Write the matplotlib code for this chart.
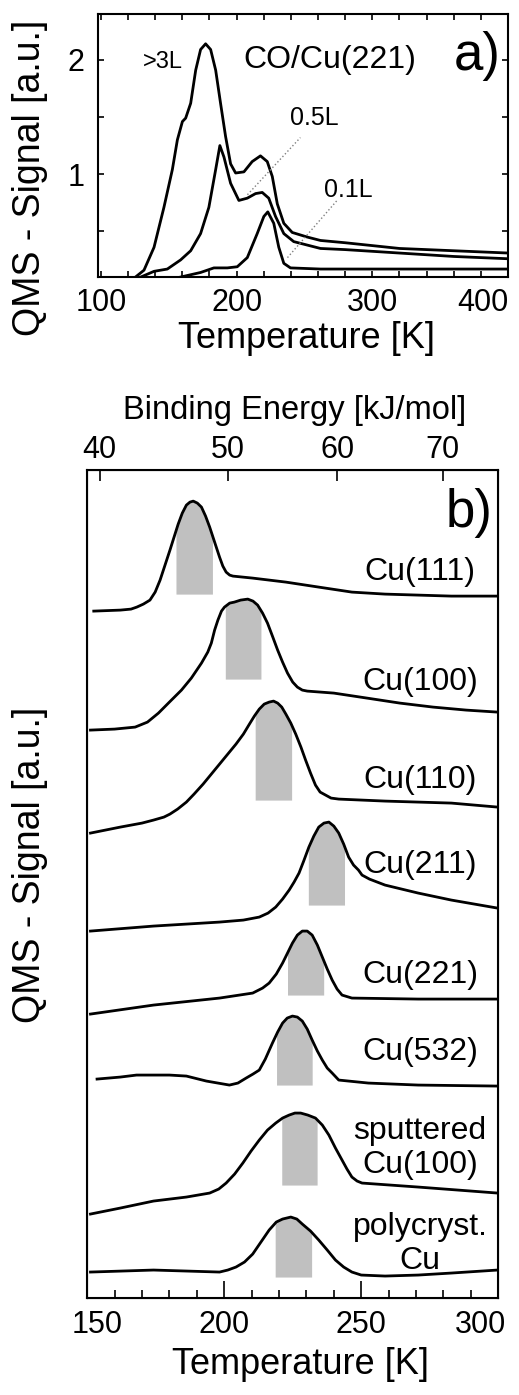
import matplotlib.pyplot as plt
import numpy as np
from matplotlib.ticker import MultipleLocator

plt.rcParams['font.family'] = ['Liberation Sans', 'DejaVu Sans']

# ---------------------------------------------------------------------
# Dados painel a) CO/Cu(221), diferentes exposições
# ---------------------------------------------------------------------
t_3L = [124.5, 131.8, 139.2, 146.5, 152.7, 156.4, 160.1, 162.5, 166.2, 169.9, 173.5, 177.2,
        180.9, 184.6, 188.2, 191.9, 195.6, 199.3, 205.4, 211.5, 217.6, 222.6, 226.3, 230,
        234.8, 241, 252, 261.8, 280, 320, 360, 400]
s_3L = [0.09, 0.16, 0.36, 0.71, 1.04, 1.30, 1.46, 1.49, 1.62, 1.91, 2.09, 2.14,
        2.09, 1.91, 1.62, 1.33, 1.09, 1.01, 1.02, 1.11, 1.16, 1.11, 0.98, 0.74,
        0.57, 0.49, 0.45, 0.42, 0.40, 0.35, 0.33, 0.31]

t_05L = [129.4, 139.2, 149, 158.8, 166.2, 173.5, 179.6, 184.6, 187.7, 190.7, 195.6, 201.7,
         207.9, 214, 218.9, 223.7, 228.7, 234.8, 242.1, 261.8, 280, 320, 360, 400]
s_05L = [0.10, 0.15, 0.17, 0.25, 0.33, 0.48, 0.71, 1.04, 1.25, 1.15, 0.92, 0.77,
         0.79, 0.83, 0.84, 0.79, 0.63, 0.48, 0.41, 0.35, 0.34, 0.31, 0.28, 0.26]

t_01L = [158.8, 173.5, 183.3, 193.2, 200.5, 207.9, 215.2, 220.1, 223, 227.4, 231.1, 234.8,
         239.7, 261.8, 300, 400]
s_01L = [0.10, 0.14, 0.18, 0.18, 0.19, 0.27, 0.48, 0.63, 0.67, 0.57, 0.36, 0.22,
         0.18, 0.17, 0.17, 0.17]

# ---------------------------------------------------------------------
# Dados painel b) espectros TPD das superfícies
# ---------------------------------------------------------------------
nomes = ['Cu(111)', 'Cu(100)', 'Cu(110)', 'Cu(211)', 'Cu(221)', 'Cu(532)',
         'sputtered\nCu(100)', 'polycryst.\nCu']
deslocamentos = [6.87, 5.68, 4.65, 3.67, 2.84, 2.19, 0.84, 0.26]

temps = [
    [152.4, 162.1, 166, 168.1, 170.5, 172.9, 174.8, 176.6, 178.4, 180.2, 181.7, 183.2, 184.7,
     186.2, 187.5, 188.7, 190.2, 191.7, 193.2, 194.7, 196.5, 198.3, 199.5, 200.7, 202, 203.2,
     210.4, 222.5, 234.5, 246.6, 258.7, 270.8, 282.9, 299.6],
    [151.2, 160, 167.5, 172, 176, 180, 184.4, 188, 191.7, 194, 195.3, 196.5, 197.7, 199, 200.1,
     202, 203.7, 206, 208.6, 210.5, 212.2, 214, 215.8, 217.6, 219.5, 221.3, 223.1, 225, 226.7,
     228.5, 230.3, 240, 252.1, 264.1, 276.2, 288.3, 299.7],
    [151.2, 162.1, 170, 174.2, 178, 180.2, 183, 186.2, 189, 192.3, 198.3, 204.3, 207, 209.2,
     211, 212.8, 214.6, 216.4, 218, 219.5, 221, 222.5, 224.3, 226.1, 228, 229.7, 231.5, 233.3,
     235, 237, 239, 241.8, 258.7, 282.9, 299.7],
    [151.2, 174.2, 198.3, 207, 212.8, 216, 218.8, 221.3, 223.7, 225.5, 227.3, 229, 230.9, 232.7,
     234.5, 236.4, 238.2, 240, 241.8, 243.6, 245.4, 247.2, 249, 250.3, 253, 258.7, 270.8, 282.9,
     299.7],
    [151.2, 174.2, 198.3, 210.4, 214, 216.4, 219, 221.3, 223.1, 224.9, 226.7, 228.5, 230.3,
     232.1, 234, 235.8, 237.6, 239.4, 241.2, 243, 246.6, 270.8, 299.7],
    [153.6, 162.1, 168, 174.2, 180, 186.2, 193.5, 201.9, 205, 208, 210.5, 212.8, 215, 217.6,
     219.5, 221.3, 223, 224.9, 226.7, 228.5, 230.3, 232.1, 234, 235.8, 237.6, 239.4, 241.8,
     252.6, 270.8, 299.7],
    [151.2, 162.1, 174.2, 186.2, 194.7, 198, 200.7, 203.8, 206.8, 209.8, 212.8, 215.8, 218.8,
     221.3, 223.7, 225.8, 227.9, 230.5, 233.3, 235.8, 238.2, 240.6, 243, 244.8, 246.6, 248.5,
     250.3, 270.8, 299.7],
    [151.2, 174.2, 198.3, 201.3, 204.3, 207.4, 210.4, 213.4, 216.4, 219, 221.3, 224.3, 226.5,
     228.5, 231.5, 234.5, 237.6, 240.6, 243.6, 246.6, 250, 258.7, 270.8, 282.9, 299.7],
]
sinais = [
    [0, 0.01, 0.02, 0.04, 0.07, 0.11, 0.19, 0.31, 0.46, 0.61, 0.74, 0.87, 0.98,
     1.06, 1.09, 1.10, 1.08, 1.04, 0.95, 0.84, 0.69, 0.54, 0.45, 0.39, 0.36, 0.35,
     0.33, 0.29, 0.24, 0.19, 0.17, 0.16, 0.15, 0.15],
    [0, 0.01, 0.03, 0.08, 0.17, 0.28, 0.40, 0.52, 0.67, 0.78, 0.87, 1.00, 1.10, 1.19, 1.23,
     1.27, 1.28, 1.30, 1.31, 1.29, 1.25, 1.17, 1.07, 0.94, 0.80, 0.68, 0.57, 0.48, 0.43,
     0.40, 0.39, 0.37, 0.32, 0.27, 0.23, 0.20, 0.18],
    [0, 0.06, 0.10, 0.13, 0.16, 0.19, 0.24, 0.31, 0.39, 0.49, 0.69, 0.89, 0.99, 1.09,
     1.17, 1.24, 1.29, 1.31, 1.32, 1.30, 1.26, 1.19, 1.10, 0.99, 0.86, 0.73, 0.60, 0.48,
     0.41, 0.38, 0.35, 0.34, 0.32, 0.30, 0.26],
    [0, 0.05, 0.09, 0.11, 0.14, 0.18, 0.24, 0.32, 0.41, 0.49, 0.58, 0.70, 0.84, 0.95,
     1.04, 1.08, 1.09, 1.05, 0.98, 0.87, 0.74, 0.66, 0.61, 0.56, 0.52, 0.46, 0.38, 0.31,
     0.23],
    [0, 0.09, 0.16, 0.21, 0.26, 0.31, 0.40, 0.51, 0.61, 0.71, 0.79, 0.83, 0.83,
     0.79, 0.69, 0.57, 0.45, 0.34, 0.25, 0.19, 0.16, 0.15, 0.15],
    [0, 0.02, 0.04, 0.04, 0.04, 0.03, -0.02, -0.06, -0.04, 0.01, 0.05, 0.09, 0.20, 0.36,
     0.47, 0.56, 0.61, 0.63, 0.62, 0.58, 0.50, 0.39, 0.28, 0.19, 0.11, 0.06, -0.01,
     -0.04, -0.06, -0.07],
    [0, 0.06, 0.13, 0.17, 0.21, 0.25, 0.31, 0.40, 0.51, 0.63, 0.74, 0.84, 0.91,
     0.96, 0.99, 1.01, 1.01, 0.99, 0.96, 0.89, 0.79, 0.66, 0.54, 0.45, 0.37, 0.33,
     0.31, 0.27, 0.21],
    [0, 0.02, 0, 0.02, 0.05, 0.10, 0.18, 0.30, 0.42, 0.50, 0.53, 0.55, 0.53,
     0.48, 0.41, 0.32, 0.22, 0.12, 0.05, 0, -0.03, -0.04, -0.03, -0.01, 0.02],
]
# faixa sombreada (T inicial, T final, nível inferior)
sombra_ini = [182.4, 200.4, 211.3, 230.7, 223.1, 219.1, 221.0, 218.6]
sombra_fim = [195.7, 213.4, 224.6, 243.9, 236.3, 232.1, 233.9, 231.9]
sombra_base = [0.17, 0.51, 0.33, 0.26, 0.19, -0.06, 0.29, -0.05]
rotulo_y = [7.26, 6.16, 5.18, 4.33, 3.23, 2.46, 1.50, 0.54]

# eixo inferior b): rótulos de temperatura (posição do texto ligeiramente deslocada nas bordas)
temp_ticks = [150, 200, 250, 300]
temp_rotulo_pos = [153.5, 200, 250, 293.5]

# eixo superior: energia de ligação
energias = [40, 50, 60, 70]
energia_em_T = [154.5, 201.4, 241.3, 279.7]

fig = plt.figure(figsize=(5.19, 13.95), dpi=100)

# ---------------------------------------------------------------------
# PAINEL a)
# ---------------------------------------------------------------------
ax1 = fig.add_axes([0.189, 0.8014, 0.790, 0.1885])
for t, s in [(t_3L, s_3L), (t_05L, s_05L), (t_01L, s_01L)]:
    ax1.plot(t, s, color='black', lw=2.0)

ax1.plot([208, 247], [0.82, 1.32], color='gray', lw=1, ls=':')
ax1.plot([237.5, 274], [0.27, 0.77], color='gray', lw=1, ls=':')

ax1.text(146, 1.98, '>3L', fontsize=17, ha='center', va='center')
ax1.text(269, 2.0, 'CO/Cu(221)', fontsize=23, ha='center', va='center')
ax1.text(377, 2.03, 'a)', fontsize=38, ha='center', va='center')
ax1.text(257, 1.49, '0.5L', fontsize=18, ha='center', va='center')
ax1.text(282, 0.86, '0.1L', fontsize=18, ha='center', va='center')

ax1.set_xlim(98, 400)
ax1.set_ylim(0.1, 2.4)
ax1.set_xticks([100, 200, 300, 400])
ax1.xaxis.set_minor_locator(MultipleLocator(20))
ax1.set_yticks([1, 2])
ax1.set_yticks([0.5, 1.5], minor=True)
ax1.tick_params(which='both', direction='in', top=True, right=True, length=4, width=1.2,
                labelsize=22)
ax1.tick_params(axis='x', pad=8)
ax1.tick_params(axis='y', pad=10)
ax1.get_xticklabels()[-1].set_ha('right')
for sp in ax1.spines.values():
    sp.set_linewidth(1.5)

fig.text(307 / 519, 1 - 339 / 1395, 'Temperature [K]', fontsize=26, ha='center', va='center')
fig.text(30 / 519, 1 - 178 / 1395, 'QMS - Signal [a.u.]', fontsize=27, rotation=90,
         ha='center', va='center')

# ---------------------------------------------------------------------
# PAINEL b)
# ---------------------------------------------------------------------
ax2 = fig.add_axes([0.168, 0.0695, 0.792, 0.5935])
for i in range(len(nomes)):
    t = np.array(temps[i])
    s = np.array(sinais[i]) + deslocamentos[i]
    # região sombreada sob o pico
    tt = np.concatenate([[sombra_ini[i]], t[(t > sombra_ini[i]) & (t < sombra_fim[i])], [sombra_fim[i]]])
    topo = np.interp(tt, t, s)
    ax2.fill_between(tt, deslocamentos[i] + sombra_base[i], topo, color='#c0c0c0', lw=0)
    ax2.plot(t, s, color='black', lw=2.0)
    ax2.text(271.5, rotulo_y[i], nomes[i], fontsize=23, ha='center', va='center',
             linespacing=1.2)

ax2.text(289.5, 7.85, 'b)', fontsize=38, ha='center', va='center')

ax2.set_xlim(150, 300)
ax2.set_ylim(0, 8.28)
ax2.set_yticks([])
ax2.set_xticks(temp_ticks)
ax2.set_xticklabels([])
ax2.xaxis.set_minor_locator(MultipleLocator(10))
ax2.tick_params(axis='x', which='major', direction='in', length=12, width=1.2)
ax2.tick_params(axis='x', which='minor', direction='in', length=6, width=1.2)
for pos, val in zip(temp_rotulo_pos, temp_ticks):
    ax2.text(pos, -0.014, str(val), transform=ax2.get_xaxis_transform(), fontsize=22,
             ha='center', va='top')
for sp in ax2.spines.values():
    sp.set_linewidth(1.5)

ax2t = ax2.twiny()
ax2t.set_xlim(150, 300)
ax2t.set_xticks(energia_em_T)
ax2t.set_xticklabels([str(e) for e in energias])
ax2t.tick_params(axis='x', direction='in', length=8, width=1.2, labelsize=22, pad=4)

fig.text(295 / 519, 1 - 410 / 1395, 'Binding Energy [kJ/mol]', fontsize=23.5, ha='center', va='center')
fig.text(300 / 519, 1 - 1365 / 1395, 'Temperature [K]', fontsize=26, ha='center', va='center')
fig.text(30 / 519, 1 - 865 / 1395, 'QMS - Signal [a.u.]', fontsize=27, rotation=90,
         ha='center', va='center')

plt.savefig('out.png', dpi=100)
plt.close()
